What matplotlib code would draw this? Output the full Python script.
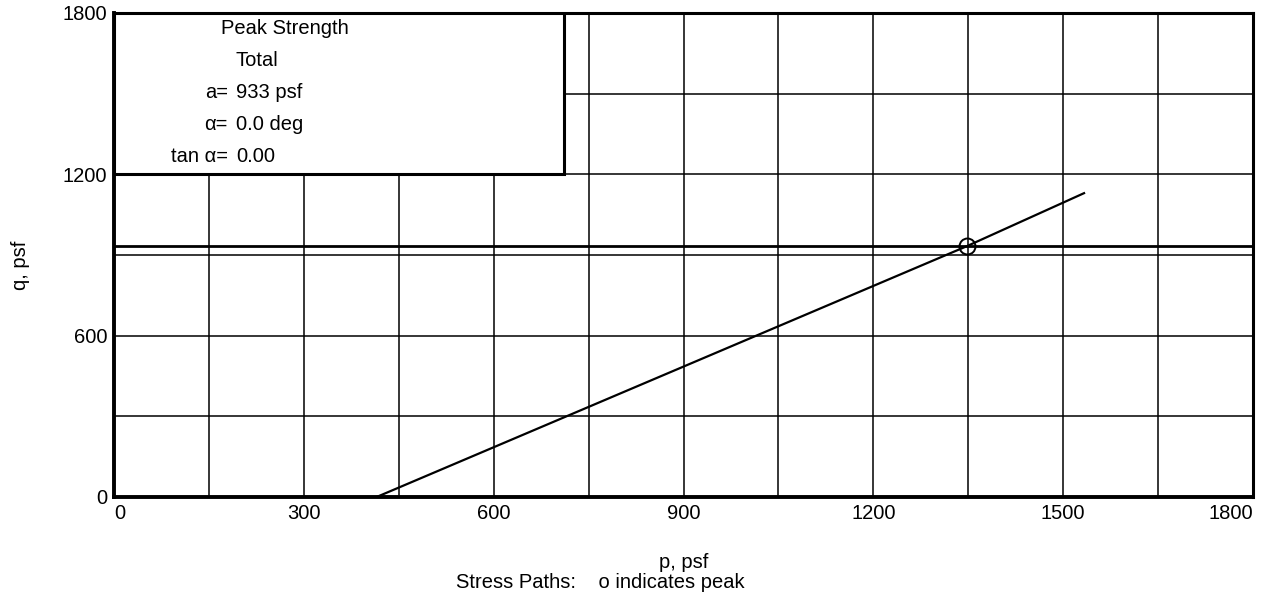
import matplotlib
matplotlib.use("Agg")
import matplotlib.pyplot as plt
from matplotlib.patches import Rectangle

plt.rcParams['font.family'] = ['Liberation Sans', 'DejaVu Sans']

# Data
path_p = [415, 1348, 1533]
path_q = [0, 933, 1130]
peak_p = [1348]
peak_q = [933]
strength_a = 933
x_ticks = [0, 300, 600, 900, 1200, 1500, 1800]
y_ticks = [0, 600, 1200, 1800]
x_grid = [150, 300, 450, 600, 750, 900, 1050, 1200, 1350, 1500, 1650]
y_grid = [300, 600, 900, 1200, 1500]
box_labels = ["a=", "\u03b1=", "tan \u03b1="]
box_values = ["933 psf", "0.0 deg", "0.00"]

fig = plt.figure(figsize=(12.65, 5.98), dpi=100)
ax = fig.add_axes([114/1265, 1-497/598, (1253-114)/1265, (497-13)/598])
ax.set_xlim(0, 1800)
ax.set_ylim(0, 1800)

for g in x_grid:
    ax.axvline(g, color='black', lw=1.1, zorder=1)
for g in y_grid:
    ax.axhline(g, color='black', lw=1.1, zorder=1)

ax.axhline(strength_a, color='black', lw=2.0, zorder=2)
ax.plot(path_p, path_q, color='black', lw=1.6, zorder=3)
ax.plot(peak_p, peak_q, 'o', mfc='none', mec='black', ms=11.5, mew=1.4, zorder=4)

# Legend box
ax.add_patch(Rectangle((0, 1200), 711, 600, facecolor='white', edgecolor='black',
                       lw=2.2, zorder=5))
fs = 14.5
ax.text(270, 1744, "Peak Strength", ha='center', va='center', fontsize=fs, zorder=6)
ax.text(226, 1625, "Total", ha='center', va='center', fontsize=fs, zorder=6)
rows_y = [1506, 1387, 1268]
for lab, val, yy in zip(box_labels, box_values, rows_y):
    ax.text(180, yy, lab, ha='right', va='center', fontsize=fs, zorder=6)
    ax.text(193, yy, val, ha='left', va='center', fontsize=fs, zorder=6)

for s in ['left', 'bottom']:
    ax.spines[s].set_linewidth(2.8)
for s in ['top', 'right']:
    ax.spines[s].set_linewidth(2.2)

ax.set_xticks(x_ticks)
ax.set_yticks(y_ticks)
ax.set_xticklabels([str(v) for v in x_ticks], fontsize=fs)
ax.set_yticklabels([str(v) for v in y_ticks], fontsize=fs)
ax.tick_params(length=0, pad=5)
xl = ax.get_xticklabels()
xl[0].set_ha('left')
xl[-1].set_ha('right')

fig.text(20/1265, 1-265/598, "q, psf", rotation=90, ha='center', va='center', fontsize=fs)
fig.text(684/1265, 1-562/598, "p, psf", ha='center', va='center', fontsize=fs)
fig.text(600/1265, 1-582/598, "Stress Paths:    o indicates peak", ha='center', va='center', fontsize=fs)

fig.savefig("out.png", dpi=100)
